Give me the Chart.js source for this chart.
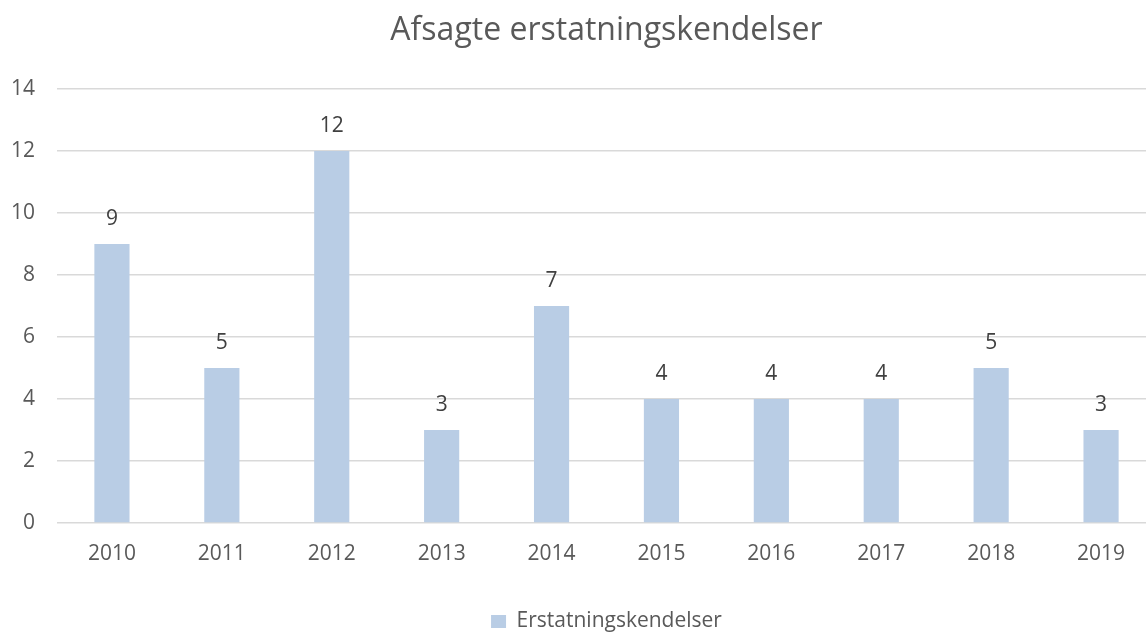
<!DOCTYPE html>
<html lang="da">
<head>
<meta charset="utf-8">
<title>Afsagte erstatningskendelser</title>
<script src="https://cdn.jsdelivr.net/npm/chart.js@4.4.1/dist/chart.umd.min.js"></script>
<style>
  html, body { margin: 0; padding: 0; background: #fff; overflow: hidden; }
  #wrap { position: relative; width: 1156px; height: 632px; }
</style>
</head>
<body>
<div id="wrap"><canvas id="graf"></canvas></div>
<script>
// Data
const aar = ['2010', '2011', '2012', '2013', '2014', '2015', '2016', '2017', '2018', '2019'];
const kendelser = [9, 5, 12, 3, 7, 4, 4, 4, 5, 3];
const yTicks = [0, 2, 4, 6, 8, 10, 12, 14];

const farveTekst = '#595959';
const farveRejilla = '#d9d9d9';
const skrift = 'Open Sans';

// Værdier over søjlerne (som Excel-dataetiketter)
const dataEtiketter = {
  id: 'dataEtiketter',
  afterDatasetsDraw(chart) {
    const ctx = chart.ctx;
    const meta = chart.getDatasetMeta(0);
    ctx.save();
    ctx.font = '21px "' + skrift + '"';
    ctx.fillStyle = '#404040';
    ctx.textAlign = 'center';
    ctx.textBaseline = 'alphabetic';
    meta.data.forEach((bar, i) => {
      ctx.fillText(String(kendelser[i]), bar.x, bar.y - 19);
    });
    ctx.restore();
  }
};

new Chart(document.getElementById('graf'), {
  type: 'bar',
  data: {
    labels: aar,
    datasets: [{
      label: 'Erstatningskendelser',
      data: kendelser,
      backgroundColor: '#b9cde5',
      borderWidth: 0,
      barPercentage: 0.64,
      categoryPercentage: 0.5
    }]
  },
  options: {
    responsive: true,
    maintainAspectRatio: false,
    animation: false,
    layout: { padding: { top: 0, right: 0, bottom: -10, left: 0 } },
    plugins: {
      title: {
        display: true,
        text: 'Afsagte erstatningskendelser',
        color: farveTekst,
        fullSize: false,
        font: { family: skrift, size: 32, weight: 'normal', lineHeight: 1.2 },
        padding: { top: 12, bottom: 38.6 }
      },
      legend: {
        position: 'bottom',
        fullSize: false,
        labels: {
          color: farveTekst,
          font: { family: skrift, size: 21 },
          boxWidth: 15,
          boxHeight: 13,
          padding: 3
        }
      },
      tooltip: { enabled: false }
    },
    scales: {
      x: {
        grid: { display: false },
        border: { display: false },
        ticks: { color: farveTekst, font: { family: skrift, size: 21 }, padding: 10 },
        afterFit(scale) { scale.height = 85; }
      },
      y: {
        min: 0,
        max: 14,
        afterBuildTicks(scale) { scale.ticks = yTicks.map(v => ({ value: v })); },
        grid: { color: farveRejilla, lineWidth: 1.5, drawTicks: false },
        border: { display: false },
        ticks: { color: farveTekst, font: { family: skrift, size: 21 }, padding: 22 },
        afterFit(scale) { scale.width = 57; }
      }
    }
  },
  plugins: [dataEtiketter]
});
</script>
</body>
</html>
